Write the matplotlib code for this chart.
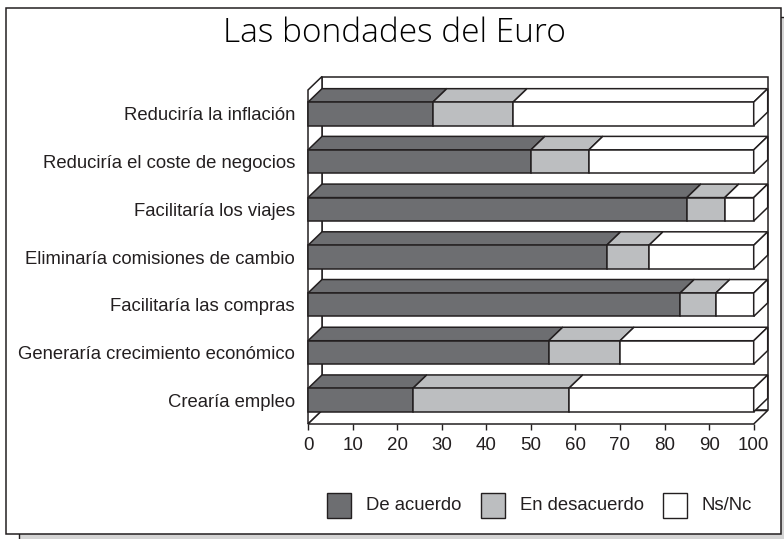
import matplotlib
matplotlib.use("Agg")
import matplotlib.pyplot as plt
from matplotlib.patches import Polygon, Rectangle

# ---------------- data ----------------
categories = ["Crearía empleo", "Generaría crecimiento económico",
              "Facilitaría las compras", "Eliminaría comisiones de cambio",
              "Facilitaría los viajes", "Reduciría el coste de negocios",
              "Reduciría la inflación"]
de_acuerdo = [23.5, 54, 83.5, 67, 85, 50, 28]
en_desacuerdo = [35, 16, 8, 9.5, 8.5, 13, 18]
ns_nc = [41.5, 30, 8.5, 23.5, 6.5, 37, 54]
series_names = ["De acuerdo", "En desacuerdo", "Ns/Nc"]
xticks = [0, 10, 20, 30, 40, 50, 60, 70, 80, 90, 100]
title = "Las bondades del Euro"

# ---------------- style ----------------
colors = ["#6d6e71", "#bcbec0", "#ffffff"]
edge = "#231f20"
lw = 1.1
W, H = 784, 539
plt.rcParams['font.family'] = ['Liberation Sans', 'DejaVu Sans']

fig = plt.figure(figsize=(W / 100, H / 100), dpi=100)
fig.patch.set_facecolor("white")


def fx(px):
    return px / W


def fy(py):
    return 1 - py / H


# frame + shadow
fig.patches.append(Rectangle((fx(19), fy(548)), (800 - 19) / W, (548 - 17) / H,
                             transform=fig.transFigure, facecolor="#d4d4d4",
                             edgecolor=edge, lw=1.0, zorder=-2))
fig.patches.append(Rectangle((fx(6), fy(534)), (781 - 6) / W, (534 - 8) / H,
                             transform=fig.transFigure, facecolor="white",
                             edgecolor=edge, lw=1.1, zorder=-1))

L, R, T, B = 308, 753.7, 90, 424
ax = fig.add_axes([fx(L), fy(B), (R - L) / W, (B - T) / H])
ax.set_zorder(2)
ax.set_xlim(0, 100)
ax.set_ylim(-0.5, len(categories) - 0.5)
ax.patch.set_visible(False)
for s in ax.spines.values():
    s.set_visible(False)

DX = 14 * 100 / (R - L)
DY = 13.5 * len(categories) / (B - T)
y0, y1 = -0.5, len(categories) - 0.5


def poly(pts, fc, z):
    ax.add_patch(Polygon(pts, closed=True, facecolor=fc, edgecolor=edge,
                         lw=lw, joinstyle="miter", clip_on=False, zorder=z))


# walls
poly([(DX, y0 + DY), (100 + DX, y0 + DY), (100 + DX, y1 + DY), (DX, y1 + DY)], "white", 1)
poly([(0, y0), (0, y1), (DX, y1 + DY), (DX, y0 + DY)], "white", 1)
poly([(0, y0), (100, y0), (100 + DX, y0 + DY), (DX, y0 + DY)], "white", 1)

# bars
bh = 0.49
series = [de_acuerdo, en_desacuerdo, ns_nc]
for i in range(len(categories)):
    yb, yt = i - bh / 2, i + bh / 2
    left = 0
    for k, vals in enumerate(series):
        v = vals[i]
        r = left + v
        poly([(left, yt), (r, yt), (r + DX, yt + DY), (left + DX, yt + DY)], colors[k], 3)
        poly([(left, yb), (r, yb), (r, yt), (left, yt)], colors[k], 3)
        left = r
    poly([(left, yb), (left, yt), (left + DX, yt + DY), (left + DX, yb + DY)], "white", 3)

ax.set_yticks(range(len(categories)))
ax.set_yticklabels(categories, fontsize=13.3, color="#231f20")
ax.tick_params(axis="y", length=0, pad=9.4)
ax.set_xticks(xticks)
ax.set_xticklabels([str(t) for t in xticks], fontsize=13.5, color="#231f20")
ax.tick_params(axis="x", direction="out", length=4.3, width=1.0, color=edge, pad=4.8)

# title
fig.text(fx(394), fy(42.3), title, ha="center", va="baseline", fontsize=24,
         family=["Open Sans", "DejaVu Sans"], fontweight="light", color="black")

# legend
sq_x = [326.7, 481, 663.3]
tx_x = [365.7, 520, 701.7]
for k, name in enumerate(series_names):
    fig.patches.append(Rectangle((fx(sq_x[k]), fy(517.7)), 24 / W, 24.4 / H,
                                 transform=fig.transFigure, facecolor=colors[k],
                                 edgecolor=edge, lw=1.0, zorder=5))
    fig.text(fx(tx_x[k]), fy(505.5), name, ha="left", va="center",
             fontsize=13.3, color="#231f20")

fig.savefig("out.png", dpi=100)
